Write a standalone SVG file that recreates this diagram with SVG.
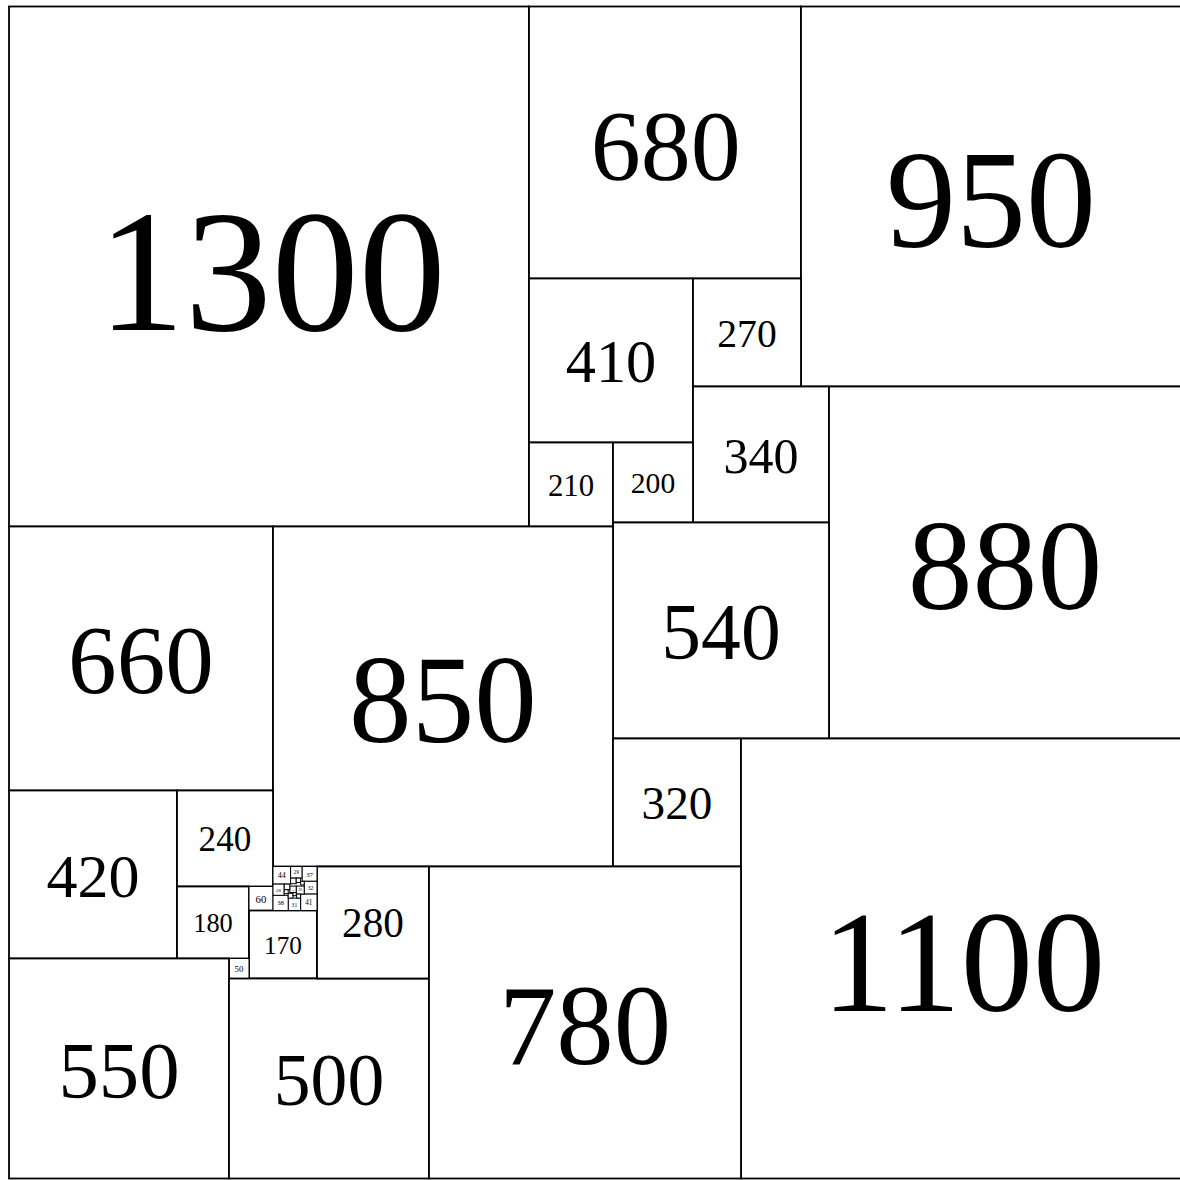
<svg xmlns="http://www.w3.org/2000/svg" width="1180" height="1180" viewBox="0 0 1180 1180">
<style>
rect{fill:#fff;stroke:#000;stroke-width:4.5}
rect.t{stroke-width:2.5}
text{font-family:"Liberation Serif","Times New Roman",serif;fill:#000;text-anchor:middle}
</style>
<rect x="0" y="0" width="1180" height="1180" style="fill:#fff;stroke:none"/>
<g transform="translate(9,6.5) scale(0.4)">
<g id="sq1300"><rect x="0" y="0" width="1300" height="1300"/><text x="657" y="808" font-size="435">1300</text></g>
<g id="sq680"><rect x="1300" y="0" width="680" height="680"/><text x="1642" y="430" font-size="250">680</text></g>
<g id="sq950"><rect x="1980" y="0" width="950" height="950"/><text x="2455" y="601" font-size="350">950</text></g>
<g id="sq410"><rect x="1300" y="680" width="410" height="410"/><text x="1505" y="939" font-size="151">410</text></g>
<g id="sq270"><rect x="1710" y="680" width="270" height="270"/><text x="1845" y="851" font-size="99">270</text></g>
<g id="sq340"><rect x="1710" y="950" width="340" height="340"/><text x="1880" y="1165" font-size="125">340</text></g>
<g id="sq880"><rect x="2050" y="950" width="880" height="880"/><text x="2490" y="1507" font-size="324">880</text></g>
<g id="sq210"><rect x="1300" y="1090" width="210" height="210"/><text x="1405" y="1223" font-size="77">210</text></g>
<g id="sq200"><rect x="1510" y="1090" width="200" height="200"/><text x="1610" y="1217" font-size="74">200</text></g>
<g id="sq540"><rect x="1510" y="1290" width="540" height="540"/><text x="1780" y="1632" font-size="199">540</text></g>
<g id="sq660"><rect x="0" y="1300" width="660" height="660"/><text x="330" y="1717" font-size="243">660</text></g>
<g id="sq850"><rect x="660" y="1300" width="850" height="850"/><text x="1085" y="1838" font-size="313">850</text></g>
<g id="sq320"><rect x="1510" y="1830" width="320" height="320"/><text x="1670" y="2032" font-size="118">320</text></g>
<g id="sq1100"><rect x="1830" y="1830" width="1100" height="1100"/><text x="2386" y="2510" font-size="361">1100</text></g>
<g id="sq420"><rect x="0" y="1960" width="420" height="420"/><text x="210" y="2226" font-size="155">420</text></g>
<g id="sq240"><rect x="420" y="1960" width="240" height="240"/><text x="540" y="2112" font-size="88">240</text></g>
<g id="sq180"><rect x="420" y="2200" width="180" height="180"/><text x="510" y="2314" font-size="66">180</text></g>
<g id="sq60"><rect class="t" x="600" y="2200" width="60" height="60"/><text x="630" y="2240" font-size="27">60</text></g>
<g id="sq170"><rect x="600" y="2260" width="170" height="170"/><text x="685" y="2368" font-size="63">170</text></g>
<g id="sq50"><rect class="t" x="550" y="2380" width="50" height="50"/><text x="575" y="2413" font-size="22">50</text></g>
<g id="sq550"><rect x="0" y="2380" width="550" height="550"/><text x="275" y="2728" font-size="202">550</text></g>
<g id="sq500"><rect x="550" y="2430" width="500" height="500"/><text x="800" y="2746" font-size="184">500</text></g>
<g id="sq280"><rect x="770" y="2150" width="280" height="280"/><text x="910" y="2327" font-size="103">280</text></g>
<g id="sq780"><rect x="1050" y="2150" width="780" height="780"/><text x="1440" y="2643" font-size="287">780</text></g>
<g id="sq44"><rect class="t" x="660" y="2150" width="44" height="44"/><text x="682" y="2179" font-size="20">44</text></g>
<g id="sq29"><rect class="t" x="704" y="2150" width="29" height="29"/><text x="718.5" y="2169" font-size="13">29</text></g>
<g id="sq37"><rect class="t" x="733" y="2150" width="37" height="37"/><text x="751.5" y="2175" font-size="17">37</text></g>
<g id="sq32"><rect class="t" x="738" y="2187" width="32" height="32"/><text x="754" y="2208" font-size="14">32</text></g>
<g id="sq41"><rect class="t" x="729" y="2219" width="41" height="41"/><text x="749.5" y="2246" font-size="18">41</text></g>
<g id="sq31"><rect class="t" x="698" y="2229" width="31" height="31"/><text x="713.5" y="2250" font-size="14">31</text></g>
<g id="sq38"><rect class="t" x="660" y="2222" width="38" height="38"/><text x="679" y="2247" font-size="17">38</text></g>
<g id="sq28"><rect class="t" x="660" y="2194" width="28" height="28"/><text x="674" y="2213" font-size="12.5">28</text></g>
<g id="sq20"><rect class="t" x="718" y="2199" width="20" height="20"/><text x="728" y="2212" font-size="9">20</text></g>
<g id="sq16"><rect class="t" x="702" y="2199" width="16" height="16"/><text x="710" y="2210" font-size="7">16</text></g>
<g id="sq14a"><rect class="t" x="688" y="2194" width="14" height="14"/></g>
<g id="sq14b"><rect class="t" x="704" y="2179" width="14" height="14"/></g>
<g id="sq11"><rect class="t" x="718" y="2179" width="11" height="11"/></g>
<g id="sq9"><rect class="t" x="729" y="2187" width="9" height="9"/></g>
<g id="sq10a"><rect class="t" x="688" y="2208" width="10" height="10"/></g>
<g id="sq12"><rect class="t" x="698" y="2217" width="12" height="12"/></g>
<g id="sq8"><rect class="t" x="710" y="2215" width="8" height="8"/></g>
<g id="sq10b"><rect class="t" x="719" y="2219" width="10" height="10"/></g>
</g>
<g id="connectors"/>
</svg>
